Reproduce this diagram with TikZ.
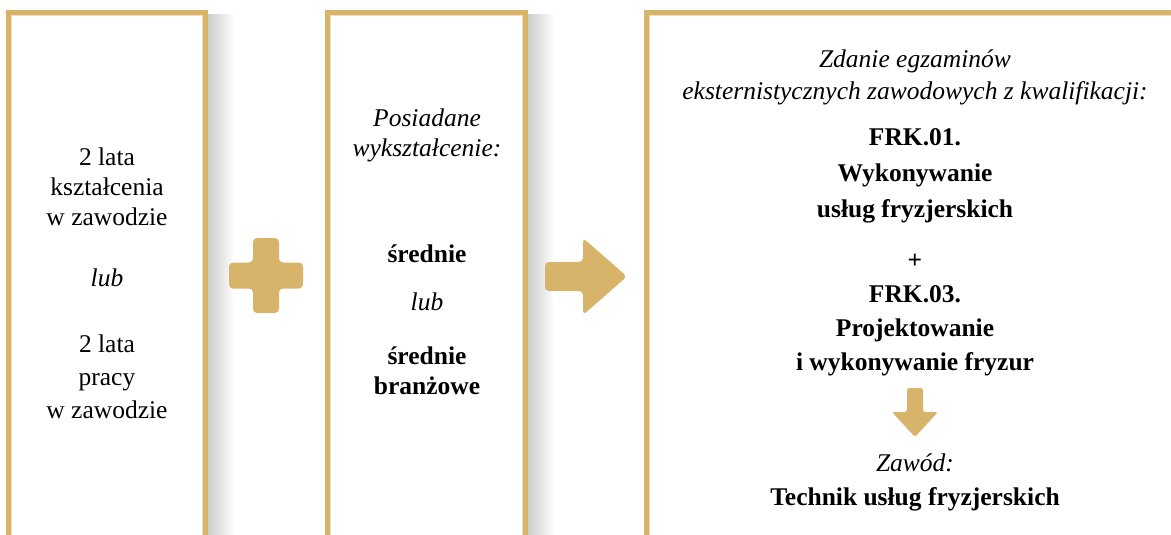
\documentclass[tikz,border=0pt]{standalone}
\usepackage{fontspec}
\setmainfont{Liberation Serif}
\definecolor{gold}{RGB}{215,180,106}
\definecolor{goldlight}{RGB}{240,222,178}
\tikzset{
  frame/.style={draw=gold,line width=5pt,line join=miter},
  innerline/.style={draw=goldlight,line width=1pt},
  symbolshape/.style={fill=gold,draw=none,rounded corners=4pt},
  txt/.style={align=center,font=\fontsize{25.5}{30}\selectfont,inner sep=0pt},
  shadowbar/.style={left color=black!20,right color=white,draw=none}
}
\begin{document}
\begin{tikzpicture}[x=1pt,y=-1pt]
\useasboundingbox (0,0) rectangle (1171,535);
% shadows
\shade[shadowbar] (208,15) rectangle (234,535);
\shade[shadowbar] (528,15) rectangle (554,535);
% frames
\draw[frame] (8.5,540) -- (8.5,12.5) -- (205.5,12.5) -- (205.5,540);
\draw[frame] (327.5,540) -- (327.5,12.5) -- (525.5,12.5) -- (525.5,540);
\draw[frame] (646.5,540) -- (646.5,12.5) -- (1180,12.5);
\draw[innerline] (11.5,540) -- (11.5,15.5) -- (202.5,15.5) -- (202.5,540);
\draw[innerline] (330.5,540) -- (330.5,15.5) -- (522.5,15.5) -- (522.5,540);
\draw[innerline] (649.5,540) -- (649.5,15.5) -- (1180,15.5);
% plus
\fill[symbolshape] (253,238) -- (279,238) -- (279,262.5) -- (303,262.5) -- (303,288.5) -- (279,288.5) -- (279,313) -- (253,313) -- (253,288.5) -- (229,288.5) -- (229,262.5) -- (253,262.5) -- cycle;
% right arrow
\fill[symbolshape] (545,262) -- (583,262) -- (583,238) -- (627,276.5) -- (583,315) -- (583,291) -- (545,291) -- cycle;
% down arrow
\fill[symbolshape,rounded corners=2.5pt] (907,388) -- (923,388) -- (923,412) -- (938,412) -- (915,437) -- (892,412) -- (907,412) -- cycle;
% box 1 text
\node[txt] (t1) at (107,187) {2 lata\\kształcenia\\w zawodzie};
\node[txt] (t2) at (107,278) {\itshape lub};
\node[txt,font=\fontsize{25.5}{33}\selectfont] (t3) at (107,377) {2 lata\\pracy\\w zawodzie};
% box 2 text
\node[txt] (t4) at (427,135) {\itshape Posiadane\\\itshape wykształcenie:};
\node[txt] (t5) at (427,254) {\bfseries średnie};
\node[txt] (t6) at (427,302) {\itshape lub};
\node[txt] (t7) at (427,371) {\bfseries średnie\\\bfseries branżowe};
% box 3 text
\node[txt,font=\fontsize{25.5}{32}\selectfont] (t8) at (915,77) {\itshape Zdanie egzaminów\\\itshape eksternistycznych zawodowych z kwalifikacji:};
\node[txt,font=\fontsize{25.5}{36}\selectfont\bfseries] (t9) at (915,176) {FRK.01.\\Wykonywanie\\usług fryzjerskich};
\node[txt,font=\fontsize{25.5}{34}\selectfont\bfseries] (t10) at (915,315) {+\\FRK.03.\\Projektowanie\\i wykonywanie fryzur};
\node[txt,font=\fontsize{25.5}{34}\selectfont] (t11) at (915,482) {\itshape Zawód:\\\bfseries Technik usług fryzjerskich};
\end{tikzpicture}
\end{document}
